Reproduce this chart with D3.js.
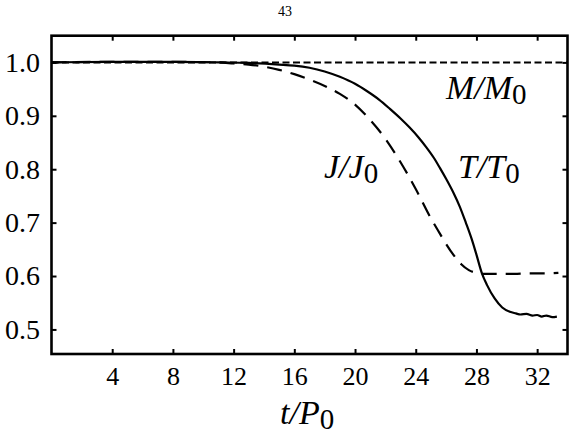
<!DOCTYPE html>
<html>
<head>
<meta charset="utf-8">
<script src="https://cdn.jsdelivr.net/npm/d3@7"></script>
</head>
<body style="margin:0">
<script>
const fontName = "Tinos"

// tick values
const xTicks = [4, 8, 12, 16, 20, 24, 28, 32]
const yTicks = [0.5, 0.6, 0.7, 0.8, 0.9, 1.0]

// t/P0 and values
const tValuesT = [0, 4, 8, 11, 13, 15, 16, 17, 18, 19, 20, 20.8, 21.6, 22.3, 23.0, 23.6, 24.2, 24.7, 25.2, 25.6, 26.0, 26.5, 26.9, 27.3, 27.7, 28.0, 28.35, 28.7, 29.2, 29.7, 30.2, 30.6, 30.9, 31.3, 31.7, 32.0, 32.3, 32.6, 33.0, 33.3]
const torque = [1.0, 1.001, 1.001, 1.0, 0.999, 0.996, 0.994, 0.990, 0.983, 0.973, 0.960, 0.946, 0.930, 0.913, 0.895, 0.878, 0.859, 0.841, 0.821, 0.802, 0.782, 0.755, 0.730, 0.700, 0.668, 0.640, 0.606, 0.583, 0.558, 0.541, 0.533, 0.530, 0.528, 0.529, 0.526, 0.527, 0.524, 0.526, 0.523, 0.524]

const tValuesJ = [0, 4, 8, 11, 12, 13, 14, 15, 16, 17, 18, 19, 20, 21, 22, 23, 24, 25, 25.6, 26, 26.5, 27, 27.5, 28, 28.5, 29.5, 30.5, 31.5, 32.5, 33.4]
const angMom = [1.0, 1.001, 1.001, 1.0, 0.998, 0.996, 0.992, 0.986, 0.978, 0.968, 0.956, 0.941, 0.921, 0.892, 0.857, 0.813, 0.763, 0.708, 0.679, 0.660, 0.639, 0.622, 0.611, 0.606, 0.604, 0.604, 0.604, 0.605, 0.605, 0.606]

const tValuesM = [0, 34]
const mass = [1.0, 1.0]

const width = 578
const height = 436
const margin = { top: 35.7, right: 10.5, bottom: 82, left: 51.5 }

const svg = d3
	.select("body")
	.append("svg")
	.attr("width", width)
	.attr("height", height)

const x = d3
	.scaleLinear()
	.domain([0, 34])
	.range([margin.left, width - margin.right])

const y = d3
	.scaleLinear()
	.domain([0.454, 1.05])
	.range([height - margin.bottom, margin.top])

// page number
svg.append("text")
	.style("font-family", `"${fontName}"`)
	.attr("x", 285)
	.attr("y", 16)
	.attr("text-anchor", "middle")
	.style("font-size", "14px")
	.text("43")

// axes with inward ticks
const styleAxis = (g) => {
	g.select(".domain").remove()
	g.selectAll("line").attr("stroke", "black").attr("stroke-width", 2)
}

const fmtTicks = (sel, size) => sel
	.style("font-family", `"${fontName}"`)
	.style("font-size", size)

svg.append("g")
	.attr("transform", `translate(0,${height - margin.bottom})`)
	.call(d3.axisBottom(x).tickValues(xTicks).tickSizeInner(-5).tickSizeOuter(0).tickPadding(12.5))
	.call(styleAxis)
	.selectAll("text")
	.call(fmtTicks, "26px")

svg.append("g")
	.attr("transform", `translate(0,${margin.top})`)
	.call(d3.axisTop(x).tickValues(xTicks).tickSizeInner(-5).tickSizeOuter(0).tickFormat(""))
	.call(styleAxis)

svg.append("g")
	.attr("transform", `translate(${margin.left},0)`)
	.call(d3.axisLeft(y).tickValues(yTicks).tickSizeInner(-5).tickSizeOuter(0).tickPadding(11.5).tickFormat(d3.format(".1f")))
	.call(styleAxis)
	.selectAll("text")
	.call(fmtTicks, "28px")

svg.append("g")
	.attr("transform", `translate(${width - margin.right},0)`)
	.call(d3.axisRight(y).tickValues(yTicks).tickSizeInner(-5).tickSizeOuter(0).tickFormat(""))
	.call(styleAxis)

// frame
svg.append("rect")
	.attr("x", margin.left)
	.attr("y", margin.top)
	.attr("width", width - margin.left - margin.right)
	.attr("height", height - margin.top - margin.bottom)
	.attr("fill", "none")
	.attr("stroke", "black")
	.attr("stroke-width", 2.6)

// curves
const line = (ts) => d3
	.line()
	.x((d, i) => x(ts[i]))
	.y((d) => y(d))
	.curve(d3.curveMonotoneX)

svg.append("path")
	.datum(mass)
	.attr("fill", "none")
	.attr("stroke", "black")
	.attr("stroke-width", 2)
	.attr("stroke-dasharray", "7,3.5")
	.attr("d", line(tValuesM))

svg.append("path")
	.datum(angMom)
	.attr("fill", "none")
	.attr("stroke", "black")
	.attr("stroke-width", 2.2)
	.attr("stroke-dasharray", "15,9")
	.attr("d", line(tValuesJ))

svg.append("path")
	.datum(torque)
	.attr("fill", "none")
	.attr("stroke", "black")
	.attr("stroke-width", 2.2)
	.attr("d", line(tValuesT))

// labels
const addLabel = (px, py, main) => {
	const t = svg.append("text")
		.style("font-family", `"${fontName}"`)
		.style("font-size", "34px")
		.attr("x", px)
		.attr("y", py)
	t.append("tspan").style("font-style", "italic").text(main)
	t.append("tspan").attr("dy", 5).style("font-size", "29px").text("0")
}

addLabel(446, 99, "M/M")
addLabel(324, 178, "J/J")
addLabel(458, 178, "T/T")

// x axis title
addLabel(280, 424, "t/P")
</script>
</body>
</html>
